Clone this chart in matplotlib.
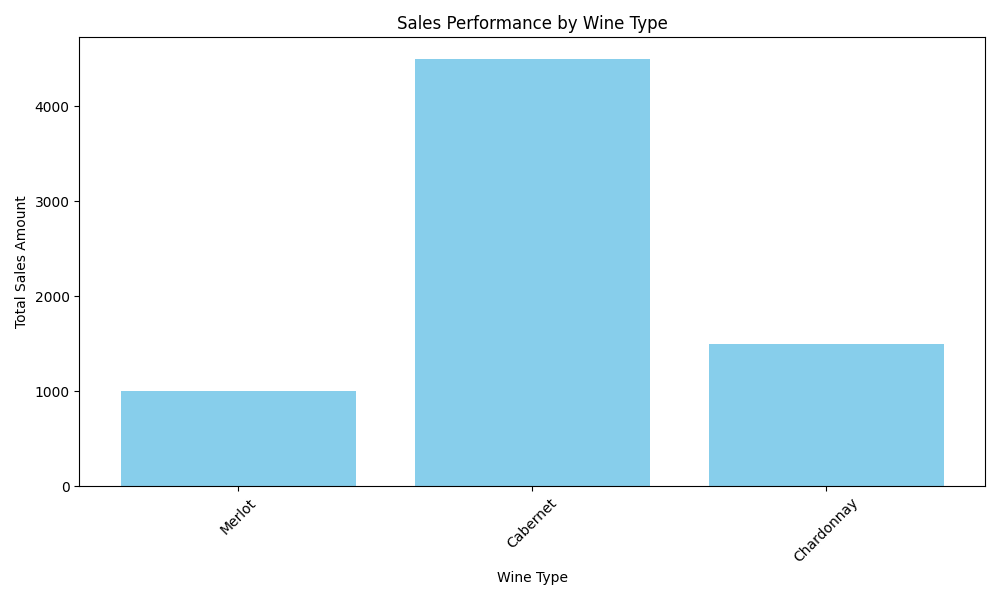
import matplotlib
matplotlib.use("Agg")
import matplotlib.pyplot as plt

wine_types = ["Merlot", "Cabernet", "Chardonnay"]
total_sales = [1000, 4500, 1500]

plt.figure(figsize=(10, 6))
plt.bar(wine_types, total_sales, color="skyblue")
plt.title("Sales Performance by Wine Type")
plt.xlabel("Wine Type")
plt.ylabel("Total Sales Amount")
plt.xticks(rotation=45)
plt.tight_layout()
plt.savefig("out.png", dpi=100)
plt.close()
